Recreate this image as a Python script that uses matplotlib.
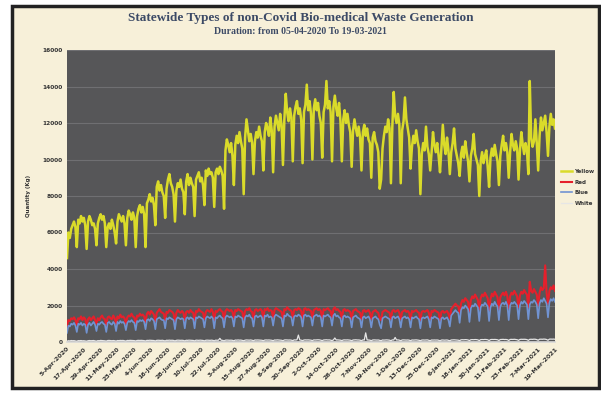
import matplotlib
matplotlib.use("Agg")
import matplotlib.pyplot as plt
import numpy as np
from matplotlib.patches import Rectangle

title = "Statewide Types of non-Covid Bio-medical Waste Generation"
subtitle = "Duration: from 05-04-2020 To 19-03-2021"
ylabel = "Quantity (Kg)"
series_names = ["Yellow", "Red", "Blue", "White"]

tick_labels = ["5-Apr-2020", "17-Apr-2020", "29-Apr-2020", "11-May-2020", "23-May-2020",
               "4-Jun-2020", "16-Jun-2020", "28-Jun-2020", "10-Jul-2020", "22-Jul-2020",
               "3-Aug-2020", "15-Aug-2020", "27-Aug-2020", "8-Sep-2020", "20-Sep-2020",
               "2-Oct-2020", "14-Oct-2020", "26-Oct-2020", "7-Nov-2020", "19-Nov-2020",
               "1-Dec-2020", "13-Dec-2020", "25-Dec-2020", "6-Jan-2021", "18-Jan-2021",
               "30-Jan-2021", "11-Feb-2021", "23-Feb-2021", "7-Mar-2021", "19-Mar-2021"]

# daily values, one line per week (Sun..Sat), 05-04-2020 .. 19-03-2021
yellow = [
    4600, 6000, 5700, 6200, 6400, 6600, 6300,
    5200, 6700, 6500, 6900, 6600, 6800, 6400,
    5100, 6600, 6900, 6700, 6400, 6500, 6200,
    5300, 6500, 6800, 7000, 6700, 6900, 6500,
    5200, 6300, 6500, 6200, 6700, 6400, 6000,
    5400, 6600, 7000, 6800, 6600, 6900, 6500,
    5300, 6800, 7200, 7000, 6700, 7100, 6800,
    5200, 6900, 7300, 7500, 7100, 7400, 7000,
    5200, 7600, 7800, 8100, 7700, 7900, 7500,
    6400, 8500, 8800, 8300, 8600, 8200, 8000,
    6800, 8400, 8900, 9200, 8700, 8500, 8100,
    6600, 8300, 8700, 8500, 8900, 8400, 8200,
    7000, 8800, 9200, 8600, 9000, 8700, 8500,
    6900, 8900, 9100, 9300, 8800, 9000, 8600,
    7500, 9400, 9100, 9500, 9200, 9300, 9000,
    7400, 9300, 9500, 9200, 9600, 9400, 9100,
    7300, 10500, 11100, 10800, 10400, 10900, 10200,
    8600, 10800, 11300, 10900, 11500, 11000, 10600,
    8100, 11200, 12200, 11600, 11000, 11400, 10900,
    9200, 11000, 11500, 11200, 11800, 11300, 11000,
    9400, 11500, 12000, 11700, 11300, 12300, 11600,
    9300, 11800, 12400, 12000, 11600, 12500, 11900,
    9700, 12200, 13600, 12600, 12100, 12800, 12300,
    9900, 12400, 12900, 13200, 12500, 12800, 12200,
    9800, 12600, 13000, 14100, 12700, 13200, 12500,
    10000, 12800, 13300, 12700, 13100, 12400, 12000,
    10100, 12600, 13000, 14300, 12800, 13200, 12600,
    9900, 12900, 13500, 12800, 12400, 13100, 12100,
    9900, 12200, 12700, 12000, 12500, 11900, 11500,
    9600, 11600, 12200, 11700, 11300, 11800, 11200,
    9400, 11500, 11900, 11300, 11700, 11100, 10900,
    9000, 11200, 11500, 11000, 10800, 10400, 8400,
    8900, 10600, 11300, 11800, 11500, 12200, 11700,
    8700, 11800, 13700, 12400, 12000, 12500, 11900,
    8700, 11600, 12100, 13400, 12200, 11700, 11200,
    9500, 10700, 11300, 10900, 11600, 11000, 10600,
    8100, 10300, 10900, 10500, 11800, 10700, 10300,
    9400, 10400, 11500, 10800, 10400, 10900, 10200,
    9300, 10600, 11900, 10800, 10300, 11200, 10500,
    9200, 10400, 10900, 11700, 10600, 10200, 9800,
    9100, 10300, 10700, 10100, 11000, 10400, 9900,
    8800, 10200, 10600, 11400, 10300, 10000, 9700,
    8000, 9900, 10400, 9800, 10200, 10500, 9600,
    8500, 10100, 10600, 10200, 10800, 10300, 9900,
    8600, 10200, 10800, 11300, 10500, 10900, 10400,
    9000, 10400, 11400, 10800, 10500, 11000, 10600,
    8900, 10500, 11500, 10800, 10300, 10900, 10500,
    9200, 14300, 11200, 10700, 11000, 12200, 10900,
    9400, 11300, 12300, 11600, 12000, 12400, 11500,
    10200, 11800, 12500, 11900, 12200, 11700,
]

red = [
    900, 1200, 1150, 1300, 1250, 1350, 1200,
    950, 1300, 1250, 1400, 1200, 1350, 1250,
    900, 1250, 1350, 1200, 1300, 1400, 1200,
    1000, 1300, 1200, 1350, 1450, 1300, 1250,
    950, 1350, 1400, 1300, 1250, 1450, 1300,
    1000, 1400, 1300, 1500, 1350, 1400, 1300,
    1000, 1350, 1450, 1400, 1550, 1400, 1350,
    1050, 1450, 1400, 1550, 1450, 1500, 1400,
    1100, 1550, 1650, 1500, 1700, 1600, 1500,
    1150, 1600, 1700, 1800, 1650, 1600, 1550,
    1200, 1650, 1600, 1750, 1700, 1650, 1550,
    1150, 1600, 1750, 1650, 1600, 1700, 1600,
    1200, 1650, 1700, 1600, 1750, 1650, 1600,
    1200, 1700, 1650, 1800, 1700, 1650, 1600,
    1250, 1650, 1750, 1700, 1650, 1800, 1650,
    1200, 1700, 1650, 1750, 1800, 1700, 1650,
    1250, 1700, 1800, 1750, 1700, 1750, 1650,
    1300, 1750, 1700, 1800, 1750, 1700, 1650,
    1250, 1700, 1800, 1750, 1850, 1700, 1650,
    1300, 1750, 1800, 1700, 1750, 1800, 1700,
    1300, 1800, 1750, 1850, 1700, 1750, 1700,
    1350, 1750, 1850, 1800, 1750, 1700, 1650,
    1300, 1800, 1750, 1900, 1800, 1750, 1700,
    1350, 1750, 1800, 1750, 1850, 1800, 1700,
    1300, 1800, 1850, 1750, 1800, 1750, 1700,
    1350, 1750, 1800, 1850, 1750, 1800, 1700,
    1300, 1800, 1750, 1800, 1850, 1750, 1700,
    1350, 1800, 1900, 1750, 1800, 1700, 1650,
    1300, 1750, 1800, 1700, 1750, 1700, 1650,
    1250, 1700, 1750, 1800, 1700, 1650, 1600,
    1250, 1700, 1750, 1650, 1700, 1750, 1600,
    1250, 1650, 1700, 1750, 1650, 1600, 1300,
    1200, 1650, 1700, 1750, 1700, 1650, 1600,
    1250, 1700, 1750, 1650, 1700, 1750, 1600,
    1250, 1650, 1700, 1750, 1650, 1700, 1600,
    1250, 1700, 1650, 1700, 1750, 1650, 1600,
    1200, 1650, 1700, 1650, 1700, 1750, 1600,
    1250, 1700, 1650, 1750, 1700, 1650, 1600,
    1200, 1650, 1700, 1600, 1650, 1700, 1550,
    1300, 1800, 1900, 2000, 2100, 2000, 1950,
    1600, 2100, 2300, 2200, 2400, 2300, 2200,
    1700, 2300, 2500, 2400, 2600, 2450, 2300,
    1800, 2400, 2600, 2500, 2700, 2550, 2400,
    1750, 2350, 2650, 2500, 2750, 2600, 2450,
    1800, 2450, 2600, 2700, 2550, 2750, 2500,
    1850, 2500, 2700, 2600, 2800, 2650, 2500,
    1900, 2550, 2750, 2650, 2850, 2700, 2600,
    1900, 3300, 2800, 2700, 2900, 2750, 2600,
    2000, 2700, 3000, 2850, 2950, 4200, 2700,
    2100, 2800, 3000, 2900, 3100, 2800,
]

blue = [
    500, 900, 850, 1000, 950, 1050, 900,
    550, 1000, 950, 1050, 900, 1000, 950,
    500, 950, 1050, 900, 1000, 1100, 950,
    600, 1000, 950, 1050, 1100, 1000, 950,
    550, 1050, 1100, 1000, 950, 1100, 1000,
    600, 1100, 1000, 1150, 1050, 1100, 1000,
    650, 1050, 1150, 1100, 1200, 1100, 1050,
    650, 1150, 1100, 1200, 1150, 1200, 1100,
    700, 1200, 1250, 1150, 1300, 1250, 1150,
    700, 1250, 1300, 1350, 1250, 1200, 1200,
    750, 1300, 1250, 1350, 1300, 1250, 1200,
    700, 1250, 1350, 1300, 1250, 1300, 1250,
    750, 1300, 1350, 1250, 1350, 1300, 1250,
    750, 1350, 1300, 1400, 1350, 1300, 1250,
    800, 1300, 1400, 1350, 1300, 1400, 1300,
    750, 1350, 1300, 1400, 1450, 1350, 1300,
    800, 1350, 1450, 1400, 1350, 1400, 1300,
    850, 1400, 1350, 1450, 1400, 1350, 1300,
    800, 1350, 1450, 1400, 1500, 1350, 1300,
    850, 1400, 1450, 1350, 1400, 1450, 1350,
    850, 1450, 1400, 1500, 1350, 1400, 1350,
    900, 1400, 1500, 1450, 1400, 1350, 1300,
    850, 1450, 1400, 1550, 1450, 1400, 1350,
    900, 1400, 1450, 1400, 1500, 1450, 1350,
    850, 1450, 1500, 1400, 1450, 1400, 1350,
    900, 1400, 1450, 1500, 1400, 1450, 1350,
    850, 1450, 1400, 1450, 1500, 1400, 1350,
    900, 1450, 1550, 1400, 1450, 1350, 1300,
    850, 1400, 1450, 1350, 1400, 1350, 1300,
    800, 1350, 1400, 1450, 1350, 1300, 1250,
    800, 1350, 1400, 1300, 1350, 1400, 1250,
    800, 1300, 1350, 1400, 1300, 1250, 950,
    750, 1300, 1350, 1400, 1350, 1300, 1250,
    800, 1350, 1400, 1300, 1350, 1400, 1250,
    800, 1300, 1350, 1400, 1300, 1350, 1250,
    800, 1350, 1300, 1350, 1400, 1300, 1250,
    750, 1300, 1350, 1300, 1350, 1400, 1250,
    800, 1350, 1300, 1400, 1350, 1300, 1250,
    750, 1300, 1350, 1250, 1300, 1350, 1200,
    850, 1450, 1550, 1650, 1750, 1650, 1600,
    1050, 1750, 1900, 1850, 2000, 1900, 1800,
    1100, 1850, 2000, 1950, 2100, 2000, 1900,
    1150, 1900, 2050, 2000, 2150, 2050, 1950,
    1150, 1900, 2100, 2000, 2200, 2050, 1950,
    1200, 1950, 2100, 2150, 2050, 2200, 2000,
    1200, 2000, 2150, 2100, 2200, 2100, 2000,
    1250, 2000, 2200, 2100, 2250, 2150, 2050,
    1250, 2050, 2200, 2150, 2300, 2200, 2050,
    1300, 2100, 2300, 2200, 2400, 2250, 2100,
    1350, 2150, 2350, 2250, 2400, 2200,
]

white = [
    40, 70, 60, 80, 70, 75, 60,
    40, 75, 70, 80, 65, 70, 60,
    45, 70, 80, 70, 75, 80, 65,
    45, 75, 70, 85, 80, 75, 65,
    50, 80, 85, 75, 70, 80, 70,
    50, 80, 75, 85, 80, 85, 70,
    50, 85, 80, 90, 85, 80, 75,
    55, 85, 90, 85, 90, 85, 75,
    55, 90, 85, 95, 90, 85, 80,
    55, 90, 95, 90, 85, 95, 80,
    60, 95, 90, 100, 90, 95, 85,
    60, 90, 100, 95, 90, 95, 85,
    60, 95, 90, 100, 95, 90, 85,
    60, 100, 95, 90, 100, 95, 85,
    60, 95, 100, 95, 90, 100, 90,
    65, 100, 95, 100, 200, 95, 90,
    65, 100, 105, 100, 95, 100, 90,
    65, 105, 100, 110, 100, 105, 90,
    70, 100, 110, 105, 100, 110, 95,
    70, 110, 105, 110, 105, 100, 95,
    70, 105, 110, 105, 110, 105, 95,
    70, 110, 105, 115, 110, 105, 95,
    70, 110, 115, 110, 105, 110, 100,
    75, 115, 110, 120, 380, 110, 100,
    75, 110, 115, 110, 115, 110, 100,
    75, 115, 110, 115, 120, 115, 100,
    75, 110, 115, 120, 110, 115, 100,
    75, 115, 220, 110, 115, 110, 100,
    75, 110, 115, 110, 115, 110, 100,
    70, 110, 115, 120, 110, 110, 100,
    70, 115, 110, 500, 115, 110, 100,
    70, 110, 115, 110, 105, 110, 90,
    70, 110, 105, 110, 115, 110, 100,
    70, 115, 110, 250, 110, 115, 100,
    70, 110, 115, 110, 105, 110, 100,
    70, 110, 105, 110, 115, 105, 95,
    70, 105, 110, 105, 110, 115, 95,
    70, 110, 105, 110, 105, 110, 95,
    65, 105, 110, 100, 105, 110, 90,
    70, 110, 115, 120, 115, 110, 100,
    75, 120, 125, 120, 130, 125, 110,
    80, 125, 130, 125, 135, 130, 115,
    80, 130, 135, 130, 140, 135, 120,
    80, 130, 140, 135, 140, 135, 120,
    85, 135, 140, 145, 135, 140, 125,
    85, 140, 145, 140, 150, 140, 125,
    90, 140, 150, 145, 150, 145, 130,
    90, 145, 150, 145, 155, 150, 130,
    95, 150, 155, 150, 160, 155, 135,
    95, 155, 160, 155, 160, 150,
]

colors = {"Yellow": "#dadb2a", "Red": "#e5202c", "Blue": "#7193d2", "White": "#e6e6e6"}

W, H = 601, 396
fig = plt.figure(figsize=(W / 100, H / 100), dpi=100, facecolor="white")

# cream background with dark frame
fig.patches.append(Rectangle((12 / W, 1 - 388 / H), (599 - 12) / W, (388 - 6) / H,
                             transform=fig.transFigure, facecolor="#f7f0d9",
                             edgecolor="#222222", linewidth=2.5, zorder=-10))

ax = fig.add_axes([67 / W, 1 - 342 / H, (555 - 67) / W, (342 - 50) / H])
ax.set_zorder(1)
ax.set_facecolor("#565658")

x = np.arange(len(yellow))
data = {"Yellow": yellow, "Red": red, "Blue": blue, "White": white}
widths = {"Yellow": 1.8, "Red": 1.5, "Blue": 1.2, "White": 0.9}
for name in series_names:
    ax.plot(x, data[name], color=colors[name], lw=widths[name], label=name)

ax.set_xlim(0, len(yellow) - 1)
ax.set_ylim(0, 16000)
ax.set_yticks(np.arange(0, 16001, 2000))
ax.yaxis.grid(True, color="#6f6f72", lw=0.8)
ax.set_axisbelow(True)
ax.set_xticks(np.arange(0, len(yellow), 12))
ax.set_xticklabels(tick_labels, rotation=45, ha="right", rotation_mode="anchor",
                   fontsize=4.5, fontweight="bold", color="#333333")
for lab in ax.get_yticklabels():
    lab.set_fontsize(4.2)
    lab.set_fontweight("bold")
    lab.set_color("#333333")
ax.tick_params(axis="both", length=0, pad=3)
for s in ["top", "right", "left"]:
    ax.spines[s].set_visible(False)
ax.spines["bottom"].set_color("#d8d8d8")
ax.spines["bottom"].set_linewidth(1.2)

ax.set_ylabel(ylabel, fontsize=4, fontweight="bold", color="#333333", labelpad=8)

fig.text(0.5, 1 - 18 / H, title, ha="center", va="center", fontsize=9.5,
         fontweight="bold", family="Liberation Serif", color="#3c4a66")
fig.text(0.5, 1 - 32 / H, subtitle, ha="center", va="center", fontsize=7,
         fontweight="bold", family="Liberation Serif", color="#3c4a66")

leg = fig.legend(loc="upper left", bbox_to_anchor=(556 / W, 1 - 164 / H), frameon=False,
                 handlelength=2.0, handletextpad=0.4, labelspacing=1.0,
                 prop={"weight": "bold", "size": 4})
for t in leg.get_texts():
    t.set_color("#333333")

fig.savefig("out.png", dpi=100, facecolor="white")
